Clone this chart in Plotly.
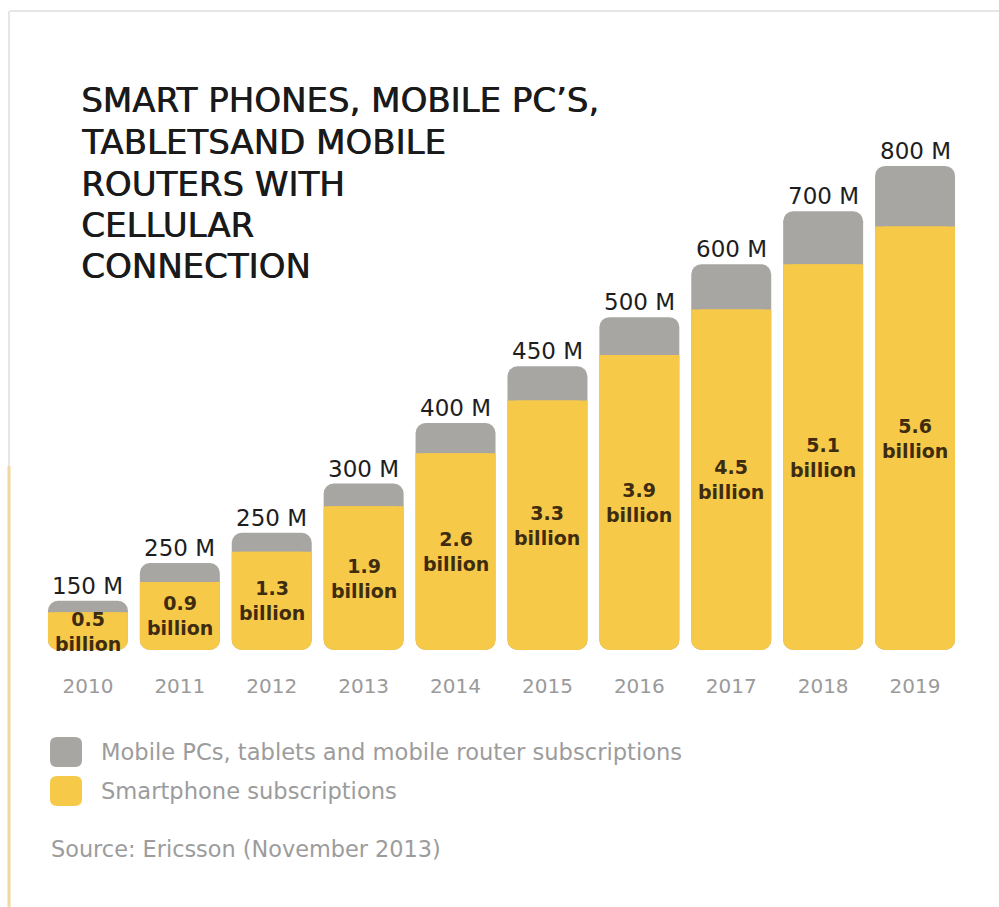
import plotly.graph_objects as go

# Subscriptions by year (Ericsson forecast, Nov 2013)
years = ["2010", "2011", "2012", "2013", "2014", "2015", "2016", "2017", "2018", "2019"]
smartphone_billion = [0.5, 0.9, 1.3, 1.9, 2.6, 3.3, 3.9, 4.5, 5.1, 5.6]
other_devices_million = [150, 250, 250, 300, 400, 450, 500, 600, 700, 800]

title_lines = ["SMART PHONES, MOBILE PC\u2019S,", "TABLETSAND MOBILE", "ROUTERS WITH",
               "CELLULAR", "CONNECTION"]
legend_labels = ["Mobile PCs, tablets and mobile router subscriptions", "Smartphone subscriptions"]
source_text = "Source: Ericsson (November 2013)"

YELLOW = "#F7C948"
GREY = "#A8A6A3"

other_billion = [m / 1000 for m in other_devices_million]
totals = [s + o for s, o in zip(smartphone_billion, other_billion)]
zeros = [0] * len(years)

# page geometry (pixels) used to place decorations in paper coordinates
FIG_W, FIG_H = 999, 907
M_L, M_R, M_T, M_B = 42, 38, 60, 257
PLOT_W = FIG_W - M_L - M_R
PLOT_H = FIG_H - M_T - M_B
Y_MAX = 7.8
RADIUS = 10
radius_units = RADIUS * Y_MAX / PLOT_H


def px(x):
    return (x - M_L) / PLOT_W


def py(y):
    return (FIG_H - M_B - y) / PLOT_H


def rounded_rect(x0, y0, x1, y1, r):
    # rounded rectangle path given in page pixels, converted to paper units
    pts = [
        ("M", [(x0 + r, y0)]),
        ("L", [(x1 - r, y0)]),
        ("Q", [(x1, y0), (x1, y0 + r)]),
        ("L", [(x1, y1 - r)]),
        ("Q", [(x1, y1), (x1 - r, y1)]),
        ("L", [(x0 + r, y1)]),
        ("Q", [(x0, y1), (x0, y1 - r)]),
        ("L", [(x0, y0 + r)]),
        ("Q", [(x0, y0), (x0 + r, y0)]),
    ]
    parts = []
    for cmd, coords in pts:
        parts.append(cmd + " ".join(f"{px(a):.5f},{py(b):.5f}" for a, b in coords))
    return " ".join(parts) + " Z"


fig = go.Figure()

# full column (smartphones + other devices) in grey, rounded at both ends
fig.add_trace(go.Bar(
    x=years, y=totals, base=zeros,
    marker=dict(color=GREY, cornerradius=RADIUS, line=dict(width=0)),
    name=legend_labels[0], showlegend=False, hoverinfo="skip",
))
# smartphone part in yellow over it
fig.add_trace(go.Bar(
    x=years, y=smartphone_billion, base=zeros,
    marker=dict(color=YELLOW, cornerradius=RADIUS, line=dict(width=0)),
    name=legend_labels[1], showlegend=False, hoverinfo="skip",
))
# square off the yellow top edge where it meets the grey part
fig.add_trace(go.Bar(
    x=years, y=[radius_units] * len(years),
    base=[s - radius_units for s in smartphone_billion],
    marker=dict(color=YELLOW, cornerradius=0, line=dict(width=0)),
    showlegend=False, hoverinfo="skip",
))

annotations = []
for i, (s, o_m, tot) in enumerate(zip(smartphone_billion, other_devices_million, totals)):
    annotations.append(dict(
        x=i, y=tot, xref="x", yref="y", text=f"{o_m} M", showarrow=False,
        yanchor="bottom", font=dict(family="DejaVu Sans", size=23, color="#1e1e1e"),
    ))
    annotations.append(dict(
        x=i, y=s / 2, xref="x", yref="y", text=f"{s}<br>billion", showarrow=False,
        yanchor="middle", font=dict(family="DejaVu Sans", size=19, color="#3e2c10", weight="bold"),
    ))

title_y = [100, 142, 184, 225, 266]
for line, yc in zip(title_lines, title_y):
    annotations.append(dict(
        x=px(79), y=py(yc), xref="paper", yref="paper", xanchor="left", yanchor="middle",
        text=line, showarrow=False,
        font=dict(family="DejaVu Sans", size=34, color="#1a1a1a",
                  shadow="0.7px 0 0 #1a1a1a"),
    ))

legend_y = [752, 791]
for lbl, yc in zip(legend_labels, legend_y):
    annotations.append(dict(
        x=px(99), y=py(yc), xref="paper", yref="paper", xanchor="left", yanchor="middle",
        text=lbl, showarrow=False,
        font=dict(family="DejaVu Sans", size=22.6, color="#9c9c9c"),
    ))
annotations.append(dict(
    x=px(49), y=py(849), xref="paper", yref="paper", xanchor="left", yanchor="middle",
    text=source_text, showarrow=False,
    font=dict(family="DejaVu Sans", size=22.4, color="#9c9c9c"),
))

shapes = []
for color, yc in zip([GREY, YELLOW], legend_y):
    shapes.append(dict(
        type="path", xref="paper", yref="paper",
        path=rounded_rect(50, yc - 15, 82, yc + 15, 7),
        fillcolor=color, line=dict(width=0),
    ))

# thin page frame
shapes.append(dict(type="line", xref="paper", yref="paper",
                   x0=px(10), x1=px(999), y0=py(11), y1=py(11),
                   line=dict(color="#e6e6e6", width=2)))
shapes.append(dict(type="line", xref="paper", yref="paper",
                   x0=px(9), x1=px(9), y0=py(11), y1=py(466),
                   line=dict(color="#e6e6e6", width=2)))
shapes.append(dict(type="line", xref="paper", yref="paper",
                   x0=px(9), x1=px(9), y0=py(466), y1=py(907),
                   line=dict(color="#f0d8a0", width=3)))

fig.update_layout(
    width=FIG_W, height=FIG_H,
    margin=dict(l=M_L, r=M_R, t=M_T, b=M_B),
    paper_bgcolor="white", plot_bgcolor="white",
    barmode="overlay", bargap=0.13,
    showlegend=False,
    annotations=annotations, shapes=shapes,
    xaxis=dict(type="category", range=[-0.5, len(years) - 0.5],
               showgrid=False, showline=False, zeroline=False,
               ticks="", ticklabelstandoff=22,
               tickfont=dict(family="DejaVu Sans", size=20, color="#9a9a9a")),
    yaxis=dict(visible=False, range=[0, Y_MAX], fixedrange=True),
)

fig.write_html("out.html")
